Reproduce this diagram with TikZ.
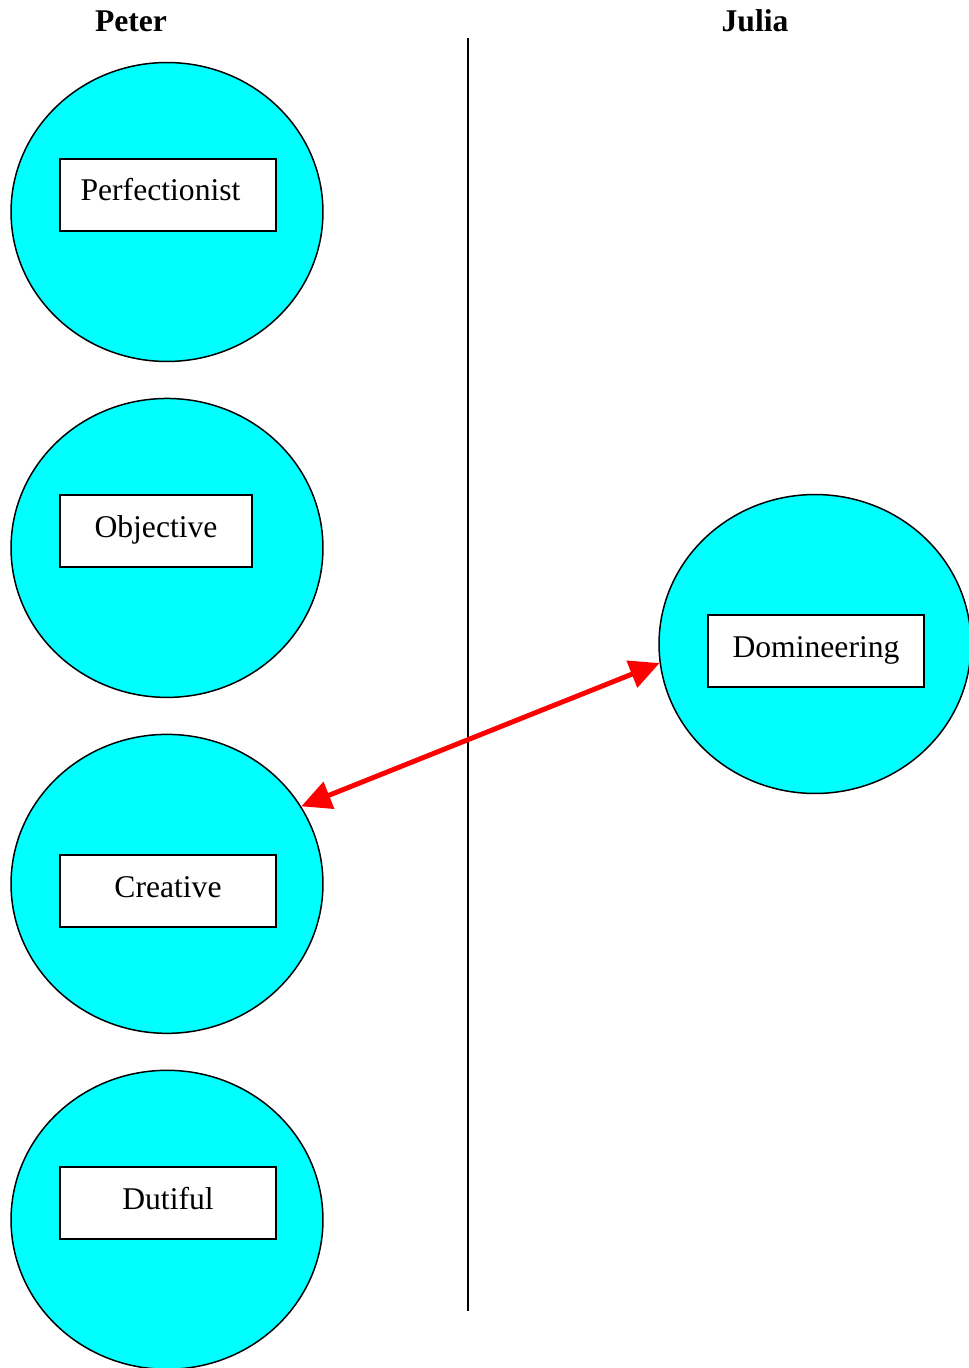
\documentclass[tikz,border=0pt]{standalone}
\usepackage{fontspec}
\setmainfont{Liberation Serif}
\usetikzlibrary{shapes.geometric, positioning, arrows.meta}

\definecolor{aqua}{RGB}{0,255,255}
\tikzset{
  trait/.style={ellipse, draw, fill=aqua, line width=0.85pt,
    minimum width=6.24cm, minimum height=5.98cm},
  tag/.style={rectangle, draw, fill=white, line width=0.85pt, inner sep=0pt,
    minimum width=4.32cm, minimum height=1.44cm,
    text height=0.52cm, text depth=0.28cm},
  who/.style={font=\fontsize{18}{22}\selectfont\bfseries, anchor=base},
  divider/.style={line width=1.1pt},
  link/.style={red, line width=2.8pt,
    {Triangle[length=17pt,width=16pt]}-{Triangle[length=17pt,width=16pt]}}
}

\begin{document}
\begin{tikzpicture}[x=0.02cm, y=-0.02cm, font=\fontsize{18}{22}\selectfont]
   \useasboundingbox (0,0) rectangle (969,1368);
   % Column heads and divider
   \node[who] (peter) at (131,32) {Peter};
   \node[who] (julia) at (755,32) {Julia};
   \coordinate (divtop) at (468,38);
   \coordinate (divbot) at (468,1311);
   \draw[divider] (divtop) -- (divbot);
   % Peter's traits
   \node[trait] (perfc) at (167,212) {};
   \node[trait, below = 0.71cm of perfc] (objc) {};
   \node[trait, below = 0.71cm of objc] (creac) {};
   \node[trait, below = 0.71cm of creac] (dutc) {};
   \node[tag] (perf) at (168,195) {Perfectionist\kern0.3cm};
   \node[tag, minimum width=3.84cm] (obj) at (156,531) {Objective};
   \node[tag] (crea) at (168,891) {Creative};
   \node[tag] (dut) at (168,1203) {Dutiful};
   % Julia's trait
   \node[trait] (domc) at (815,644) {};
   \node[tag] (dom) at (816,651) {Domineering};
   % Connect the traits
   \draw[link] (creac.30) -- (domc.187);
\end{tikzpicture}
\end{document}
